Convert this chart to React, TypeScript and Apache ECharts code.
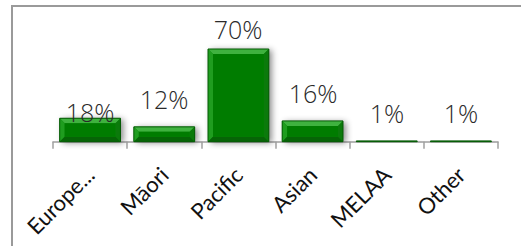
import React, { useEffect, useRef } from "react";
import * as echarts from "echarts";

const categories = ["Europe...", "Māori", "Pacific", "Asian", "MELAA", "Other"];
const values = [17.7, 11.2, 70, 15.7, 0.6, 0.6];
const labels = ["18%", "12%", "70%", "16%", "1%", "1%"];
const labelGap = [-6, 16, 8, 16, 16, 16];

const AXIS_FONT = "Lato";
const LABEL_FONT = "Open Sans";

export default function App() {
  const ref = useRef<HTMLDivElement>(null);
  useEffect(() => {
    document.body.style.margin = "0";
    const chart = echarts.init(ref.current!, null, { renderer: "svg" });
    const option: any = {
      animation: false,
      backgroundColor: "#ffffff",
      graphic: [
        {
          type: "rect",
          shape: { x: 12, y: 6, width: 560, height: 300 },
          style: { fill: "none", stroke: "#9a9a9a", lineWidth: 2 },
          silent: true,
        },
      ],
      grid: { left: 53, right: 23, top: 49, bottom: 104.3 },
      xAxis: {
        type: "category",
        data: categories,
        axisLine: { lineStyle: { color: "#a0a0a0", width: 1.5 } },
        axisTick: { show: true, length: 7, interval: 0, lineStyle: { color: "#a0a0a0", width: 1.5 } },
        axisLabel: {
          interval: 0,
          rotate: 45,
          margin: 29,
          fontSize: 22,
          fontFamily: AXIS_FONT,
          color: "#111",
        },
      },
      yAxis: { type: "value", min: 0, max: 70, show: false, splitLine: { show: false } },
      series: [
        {
          type: "custom",
          z: 2,
          silent: true,
          data: values.map((v, i) => [i, v]),
          encode: { x: 0, y: 1 },
          renderItem: (params: any, api: any) => {
            const idx = api.value(0);
            const val = api.value(1);
            const top = api.coord([idx, val]);
            const base = api.coord([idx, 0]);
            const bw = api.size([1, 0])[0] * 0.82;
            const x0 = top[0] - bw / 2;
            const y0 = top[1];
            const h = base[1] - top[1];
            const b = Math.min(5, h / 2, bw / 2);
            const x1 = x0 + bw;
            const y1 = y0 + h;
            return {
              type: "group",
              children: [
                {
                  type: "rect",
                  shape: { x: x0, y: y0, width: bw, height: h },
                  style: {
                    fill: "#0a850a",
                    shadowBlur: 6,
                    shadowColor: "rgba(0,0,0,0.45)",
                    shadowOffsetX: 3,
                    shadowOffsetY: 1,
                  },
                },
                {
                  type: "polygon",
                  shape: { points: [[x0, y0], [x1, y0], [x1 - b, y0 + b], [x0 + b, y0 + b]] },
                  style: { fill: "#3fb23f" },
                },
                {
                  type: "polygon",
                  shape: { points: [[x0, y0], [x0 + b, y0 + b], [x0 + b, y1 - b], [x0, y1]] },
                  style: { fill: "#1f9d1f" },
                },
                {
                  type: "polygon",
                  shape: { points: [[x1, y0], [x1 - b, y0 + b], [x1 - b, y1 - b], [x1, y1]] },
                  style: { fill: "#0b7a0b" },
                },
                {
                  type: "polygon",
                  shape: { points: [[x0, y1], [x0 + b, y1 - b], [x1 - b, y1 - b], [x1, y1]] },
                  style: { fill: "#066406" },
                },
                {
                  type: "rect",
                  shape: { x: x0 + b, y: y0 + b, width: Math.max(0, bw - 2 * b), height: Math.max(0, h - 2 * b) },
                  style: { fill: "#007c00" },
                },
                {
                  type: "rect",
                  shape: { x: x0, y: y0, width: bw, height: h },
                  style: { fill: "none", stroke: "#055a05", lineWidth: 1 },
                },
                {
                  type: "text",
                  z2: 100,
                  style: {
                    text: labels[params.dataIndex],
                    x: Math.round(top[0]),
                    y: Math.round(y0 - labelGap[params.dataIndex]),
                    textAlign: "center",
                    textVerticalAlign: "bottom",
                    fontSize: 25,
                    fontWeight: 300,
                    fontFamily: LABEL_FONT,
                    fill: "#2a2a2a",
                  },
                },
              ],
            };
          },
        },
      ],
    };
    chart.setOption(option);
    return () => chart.dispose();
  }, []);
  return <div ref={ref} style={{ width: 521, height: 246 }} />;
}
